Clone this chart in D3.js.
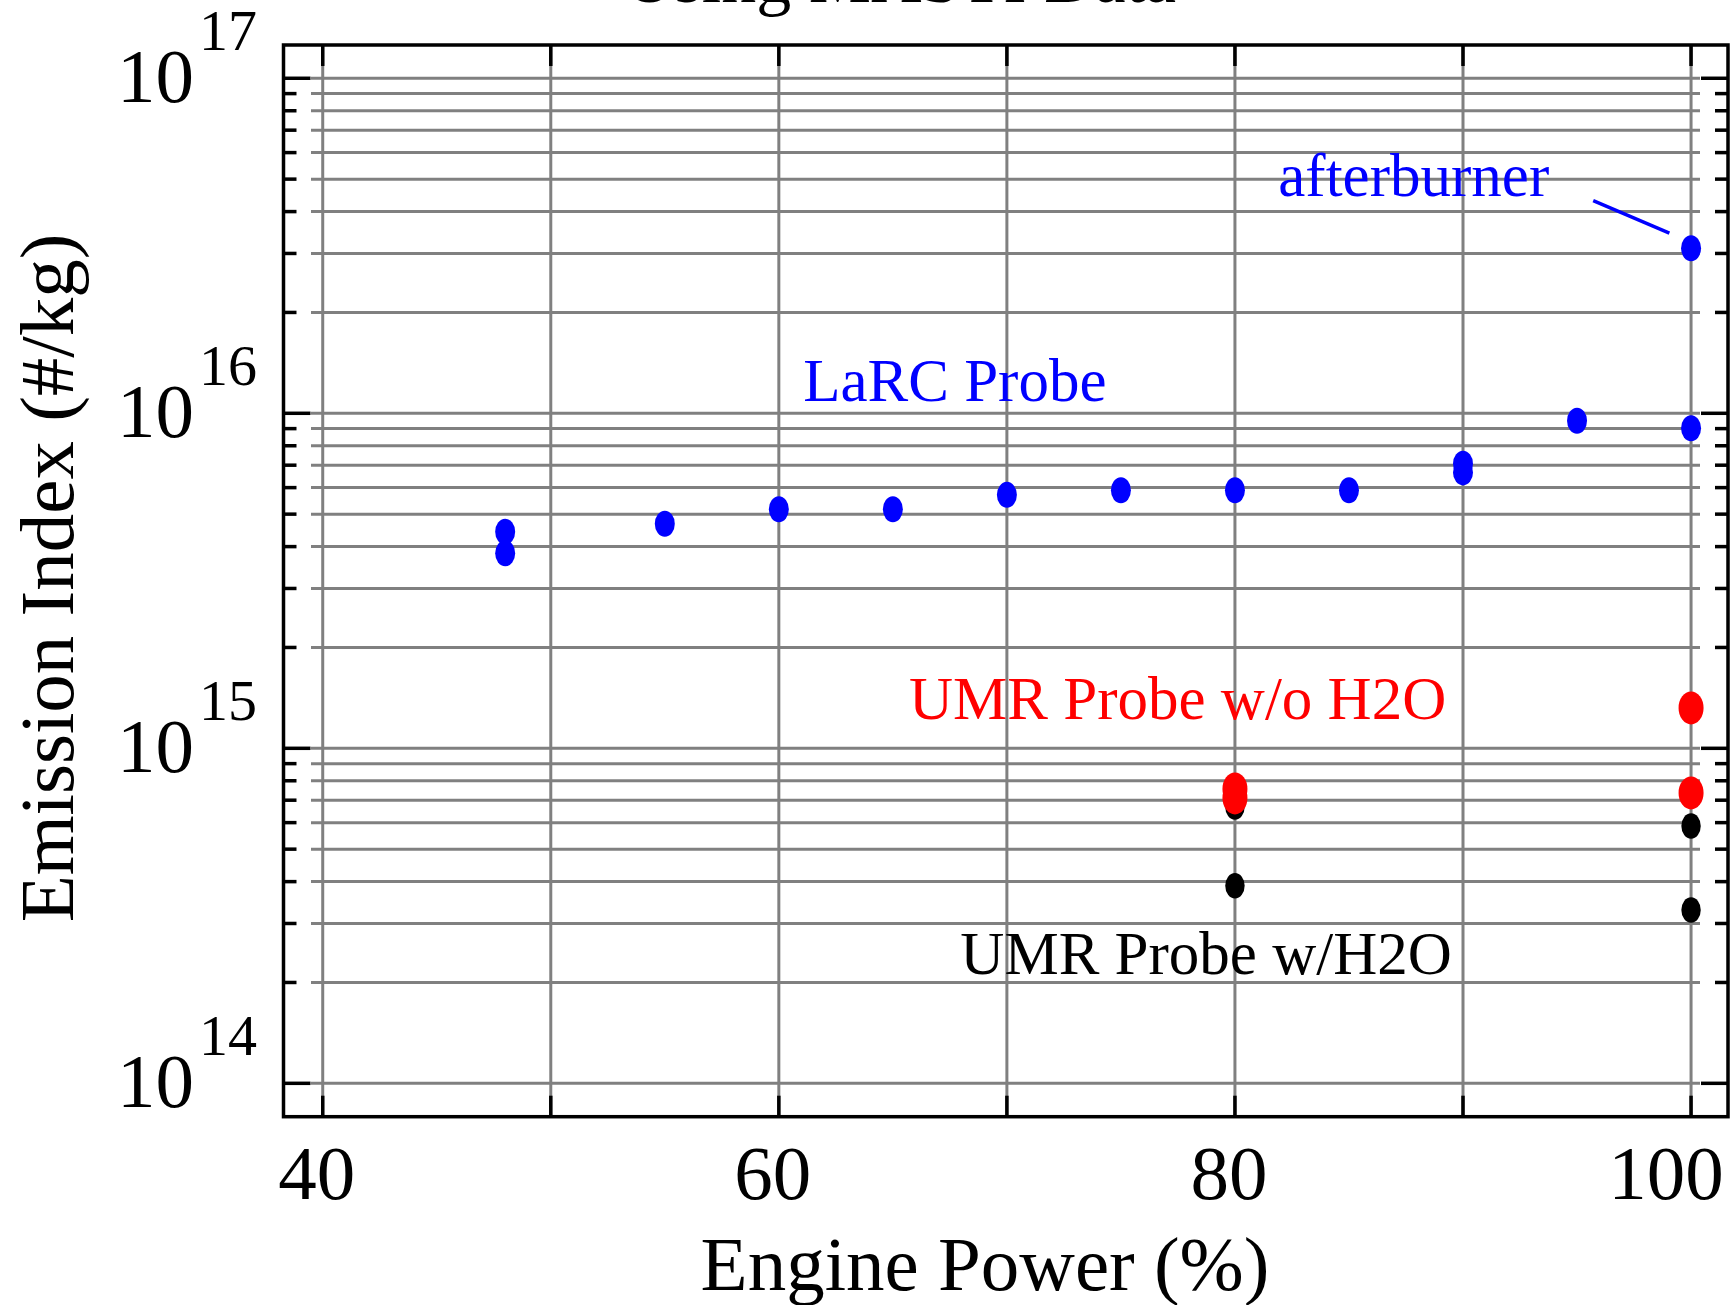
<!DOCTYPE html>
<html>
<head>
  <meta charset="utf-8">
  <script src="https://d3js.org/d3.v7.min.js"></script>
  <style>
    body { margin: 0; background: #fff; }
    text { font-family: "Liberation Serif", "Times New Roman", serif; }
  </style>
</head>
<body>
<script>
  // data (engine power %, emission index #/kg)
  var larcX  = [48, 48, 55, 60, 65, 70, 75, 80, 85, 90, 90, 95, 100, 100];
  var larcY  = [4.43e15, 3.82e15, 4.68e15, 5.17e15, 5.17e15, 5.71e15, 5.89e15, 5.89e15, 5.89e15, 7.07e15, 6.66e15, 9.5e15, 9.02e15, 3.11e16];
  var wetX   = [80, 80, 100, 100];
  var wetY   = [6.68e14, 3.89e14, 5.86e14, 3.29e14];
  var dryX   = [80, 80, 100, 100];
  var dryY   = [7.56e14, 7.11e14, 1.32e15, 7.36e14];

  var xTicks = [40, 50, 60, 70, 80, 90, 100];
  var xLabels = [40, 60, 80, 100];
  var yDecades = [14, 15, 16, 17];

  // labels placed in data space
  var notes = [
    {text: "afterburner", x: 81.9, y: 4.45e16, color: "#0000ff"},
    {text: "LaRC Probe", x: 61.07, y: 1.088e16, color: "#0000ff"},
    {text: "UMR Probe w/o H2O", x: 65.71, y: 1.226e15, color: "#ff0000"},
    {text: "UMR Probe w/H2O", x: 67.96, y: 2.12e14, color: "#000000"}
  ];
  var pointerX = [95.71, 99.05];
  var pointerY = [4.31e16, 3.45e16];

  (function () {
    var width = 1731, height = 1305;
    var pLeft = 283.5, pRight = 1728, pTop = 45, pBottom = 1116.7;

    var svg = d3.select("body").append("svg")
        .attr("width", width)
        .attr("height", height);

    var x = d3.scaleLinear().domain([38.28, 101.62]).range([pLeft, pRight]);
    var y = d3.scaleLog().domain([7.95e13, 1.257e17]).range([pBottom, pTop]);

    // grid values 1..9 x 10^n between 1e14 and 1e17
    var yGrid = [];
    for (var e = 14; e <= 17; e++) {
      for (var m = 1; m <= 9; m++) {
        var v = m * Math.pow(10, e);
        if (v <= 1e17) yGrid.push({v: v, major: m === 1});
      }
    }

    // grey grid
    svg.append("g").selectAll("line")
        .data(xTicks).enter().append("line")
        .attr("x1", function (d) { return x(d); })
        .attr("x2", function (d) { return x(d); })
        .attr("y1", pTop).attr("y2", pBottom)
        .attr("stroke", "#808080").attr("stroke-width", 3);

    svg.append("g").selectAll("line")
        .data(yGrid).enter().append("line")
        .attr("x1", 311).attr("x2", 1700)
        .attr("y1", function (d) { return y(d.v); })
        .attr("y2", function (d) { return y(d.v); })
        .attr("stroke", "#808080").attr("stroke-width", 3);

    // frame and ticks
    svg.append("rect")
        .attr("x", pLeft).attr("y", pTop)
        .attr("width", pRight - pLeft).attr("height", pBottom - pTop)
        .attr("fill", "none").attr("stroke", "#000").attr("stroke-width", 3.5);

    var ticks = svg.append("g").attr("stroke", "#000").attr("stroke-width", 3.5);
    xTicks.forEach(function (d) {
      ticks.append("line").attr("x1", x(d)).attr("x2", x(d)).attr("y1", pTop).attr("y2", pTop + 21);
      ticks.append("line").attr("x1", x(d)).attr("x2", x(d)).attr("y1", pBottom).attr("y2", pBottom - 21);
    });
    yGrid.forEach(function (d) {
      var len = d.major ? 27 : 13;
      ticks.append("line").attr("x1", pLeft).attr("x2", pLeft + len).attr("y1", y(d.v)).attr("y2", y(d.v));
      ticks.append("line").attr("x1", pRight).attr("x2", pRight - len).attr("y1", y(d.v)).attr("y2", y(d.v));
    });

    // tick labels (the last one is pulled in to stay on the page)
    svg.append("g").selectAll("text")
        .data(xLabels).enter().append("text")
        .attr("x", function (d) { return Math.min(x(d) - 6, 1666); })
        .attr("y", 1199)
        .attr("text-anchor", "middle")
        .style("font-size", "77px")
        .text(function (d) { return d; });

    var yl = svg.append("g");
    yDecades.forEach(function (d) {
      var yy = y(Math.pow(10, d));
      yl.append("text").attr("x", 194).attr("y", yy + 24)
          .attr("text-anchor", "end").style("font-size", "77px").text("10");
      yl.append("text").attr("x", 199).attr("y", yy - 28)
          .style("font-size", "58px").text(d);
    });

    // axis titles
    svg.append("text")
        .attr("x", 985).attr("y", 1290)
        .attr("text-anchor", "middle")
        .style("font-size", "77px")
        .text("Engine Power (%)");

    svg.append("text")
        .attr("transform", "translate(73,578) rotate(-90)")
        .attr("text-anchor", "middle")
        .style("font-size", "77px")
        .text("Emission Index (#/kg)");

    // title, mostly cut off at the top edge
    svg.append("text")
        .attr("x", 624).attr("y", 2)
        .style("font-size", "70px")
        .text("Using MASTI Data");

    // points
    function dots(xs, ys, color, rx, ry) {
      svg.append("g").selectAll("ellipse")
          .data(xs).enter().append("ellipse")
          .attr("cx", function (d) { return x(d); })
          .attr("cy", function (d, i) { return y(ys[i]); })
          .attr("rx", rx).attr("ry", ry)
          .attr("fill", color);
    }
    dots(larcX, larcY, "#0000ff", 10, 13);
    dots(wetX, wetY, "#000000", 9.7, 12.8);
    dots(dryX, dryY, "#ff0000", 12.5, 16.5);

    // annotations
    svg.append("line")
        .attr("x1", x(pointerX[0])).attr("y1", y(pointerY[0]))
        .attr("x2", x(pointerX[1])).attr("y2", y(pointerY[1]))
        .attr("stroke", "#0000ff").attr("stroke-width", 3.5);

    svg.append("g").selectAll("text")
        .data(notes).enter().append("text")
        .attr("x", function (d) { return x(d.x); })
        .attr("y", function (d) { return y(d.y); })
        .attr("fill", function (d) { return d.color; })
        .style("font-size", "61px")
        .text(function (d) { return d.text; });
  })();
</script>
</body>
</html>
